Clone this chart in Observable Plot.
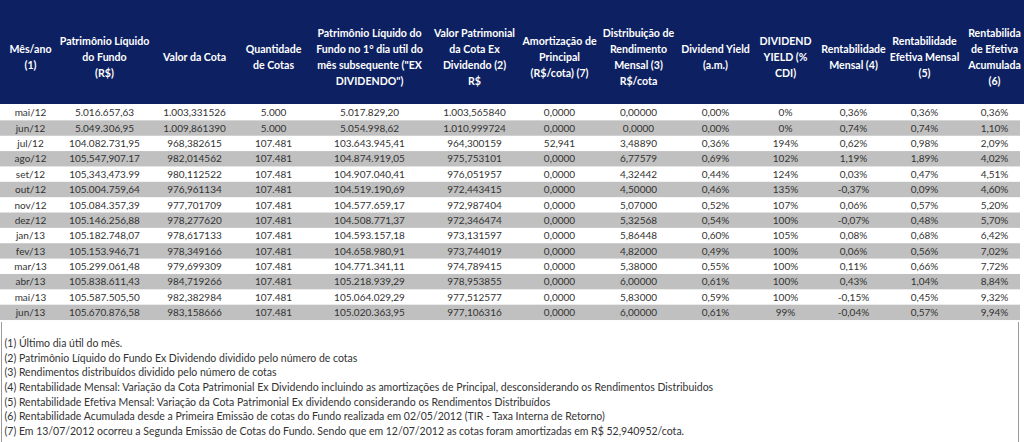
<!DOCTYPE html>
<html><head><meta charset="utf-8">
<script src="https://cdn.jsdelivr.net/npm/d3@7"></script>
<script src="https://cdn.jsdelivr.net/npm/@observablehq/plot@0.6"></script>
<style>html,body{margin:0;padding:0;background:#fff;overflow:hidden;}</style>
</head><body><div id="chart"></div>
<script>
// ---- data ----
const headers = [
  "Mês/ano\n(1)",
  "Patrimônio Líquido\ndo Fundo\n(R$)",
  "Valor da Cota",
  "Quantidade\nde Cotas",
  "Patrimônio Líquido do\nFundo no 1° dia util do\nmês subsequente (\"EX\nDIVIDENDO\")",
  "Valor Patrimonial\nda Cota Ex\nDividendo (2)\nR$",
  "Amortização de\nPrincipal\n(R$/cota) (7)",
  "Distribuição de\nRendimento\nMensal (3)\nR$/cota",
  "Dividend Yield\n(a.m.)",
  "DIVIDEND\nYIELD (%\nCDI)",
  "Rentabilidade\nMensal (4)",
  "Rentabilidade\nEfetiva Mensal\n(5)",
  "Rentabilida\nde Efetiva\nAcumulada\n(6)"
];
const months = ["mai/12","jun/12","jul/12","ago/12","set/12","out/12","nov/12","dez/12","jan/13","fev/13","mar/13","abr/13","mai/13","jun/13"];
const plFundo = ["5.016.657,63","5.049.306,95","104.082.731,95","105,547,907.17","105,343,473.99","105.004.759,64","105.084.357,39","105.146.256,88","105.182.748,07","105.153.946,71","105.299.061,48","105.838.611,43","105.587.505,50","105.670.876,58"];
const valorCota = ["1.003,331526","1.009,861390","968,382615","982,014562","980,112522","976,961134","977,701709","978,277620","978,617133","978,349166","979,699309","984,719266","982,382984","983,158666"];
const quantidade = ["5.000","5.000","107.481","107.481","107.481","107.481","107.481","107.481","107.481","107.481","107.481","107.481","107.481","107.481"];
const plEx = ["5.017.829,20","5.054.998,62","103.643.945,41","104.874.919,05","104.907.040,41","104.519.190,69","104.577.659,17","104.508.771,37","104.593.157,18","104.658.980,91","104.771.341,11","105.218.939,29","105.064.029,29","105.020.363,95"];
const valorEx = ["1.003,565840","1.010,999724","964,300159","975,753101","976,051957","972,443415","972,987404","972,346474","973,131597","973,744019","974,789415","978,953855","977,512577","977,106316"];
const amort = ["0,0000","0,0000","52,941","0,0000","0,0000","0,0000","0,0000","0,0000","0,0000","0,0000","0,0000","0,0000","0,0000","0,0000"];
const distrib = ["0,00000","0,0000","3,48890","6,77579","4,32442","4,50000","5,07000","5,32568","5,86448","4,82000","5,38000","6,00000","5,83000","6,00000"];
const dy = ["0,00%","0,00%","0,36%","0,69%","0,44%","0,46%","0,52%","0,54%","0,60%","0,49%","0,55%","0,61%","0,59%","0,61%"];
const dyCdi = ["0%","0%","194%","102%","124%","135%","107%","100%","105%","100%","100%","100%","100%","99%"];
const rentMensal = ["0,36%","0,74%","0,62%","1,19%","0,03%","-0,37%","0,06%","-0,07%","0,08%","0,06%","0,11%","0,43%","-0,15%","-0,04%"];
const rentEfetiva = ["0,36%","0,74%","0,98%","1,89%","0,47%","0,09%","0,57%","0,48%","0,68%","0,56%","0,66%","1,04%","0,45%","0,57%"];
const rentAcum = ["0,36%","1,10%","2,09%","4,02%","4,51%","4,60%","5,20%","5,70%","6,42%","7,02%","7,72%","8,84%","9,32%","9,94%"];
const notes = [
  "(1) Último dia útil do mês.",
  "(2) Patrimônio Líquido do Fundo Ex Dividendo dividido pelo número de cotas",
  "(3) Rendimentos distribuídos dividido pelo número de cotas",
  "(4) Rentabilidade Mensal: Variação da Cota Patrimonial Ex Dividendo incluindo as amortizações de Principal, desconsiderando os Rendimentos Distribuidos",
  "(5) Rentabilidade Efetiva Mensal: Variação da Cota Patrimonial Ex dividendo considerando os Rendimentos Distribuídos",
  "(6) Rentabilidade Acumulada desde a Primeira Emissão de cotas do Fundo realizada em 02/05/2012 (TIR - Taxa Interna de Retorno)",
  "(7) Em 13/07/2012 ocorreu a Segunda Emissão de Cotas do Fundo. Sendo que em 12/07/2012 as cotas foram amortizadas em R$ 52,940952/cota."
];

// ---- layout (positions kept out of the data) ----
const W = 1024, H = 442;
const colX = [30,104,194,273,369,474,559,638,715,785,853,924,994];
const headerBottom = 104, rowTop = 105, rowH = 15.36, rowRight = 1020;
const noteTop = 343, noteStep = 14.7;

const columns = [months, plFundo, valorCota, quantidade, plEx, valorEx, amort, distrib, dy, dyCdi, rentMensal, rentEfetiva, rentAcum];
const cells = months.flatMap((m, i) => columns.map((col, j) => ({x: colX[j], y: rowTop + (i + 0.5) * rowH, text: col[i]})));
const stripes = months.map((m, i) => ({i, y1: rowTop + i * rowH, y2: rowTop + (i + 1) * rowH})).filter(d => d.i % 2 === 1);
const heads = headers.map((h, j) => ({x: colX[j], y: headerBottom / 2 + 3, text: h}));
const noteRows = notes.map((n, i) => ({x: 4, y: noteTop + i * noteStep, text: n}));

const chart = Plot.plot({
  width: W, height: H, margin: 0,
  style: {fontFamily: "Lato, 'Open Sans', sans-serif", background: "#fff"},
  x: {domain: [0, W], range: [0, W], axis: null},
  y: {domain: [0, H], range: [0, H], axis: null},
  marks: [
    Plot.rect([{x1: 0, x2: W, y1: 0, y2: headerBottom}], {x1: "x1", x2: "x2", y1: "y1", y2: "y2", fill: "#0d2162"}),
    Plot.rect(stripes, {x1: 0, x2: rowRight, y1: "y1", y2: "y2", fill: "#c0c0c0"}),
    Plot.text(heads, {x: "x", y: "y", text: "text", fill: "#fff", fontWeight: "bold", fontSize: 10.6, lineHeight: 1.52}),
    Plot.text(cells, {x: "x", y: "y", text: "text", fill: "#333", fontSize: 10}),
    Plot.ruleX([1, 1018], {y1: 322, y2: H, stroke: "#9a9a9a"}),
    Plot.text(noteRows, {x: "x", y: "y", text: "text", textAnchor: "start", fill: "#333", fontSize: 10.5})
  ]
});
document.getElementById("chart").append(chart);
</script>
</body></html>
